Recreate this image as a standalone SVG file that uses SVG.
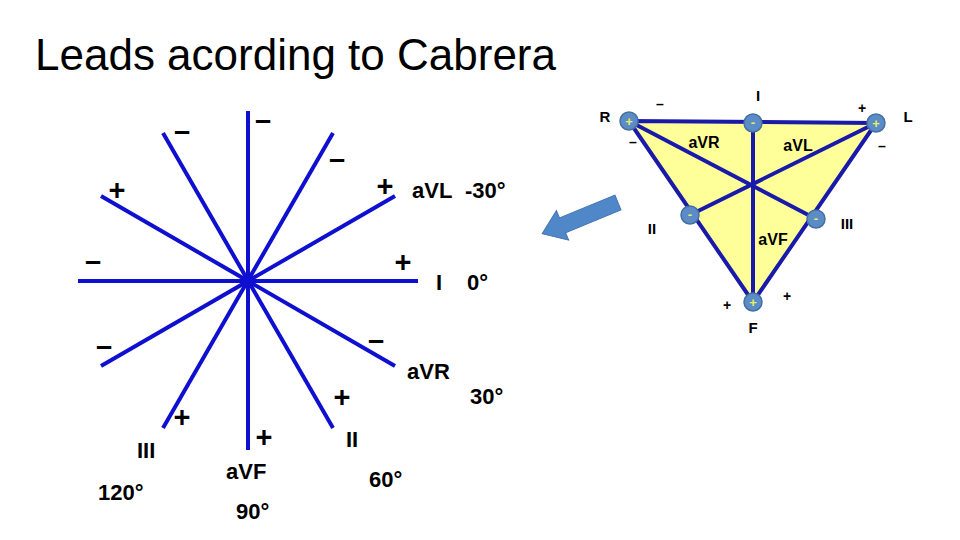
<svg xmlns="http://www.w3.org/2000/svg" width="960" height="540" viewBox="0 0 960 540">
<defs>
<style>
.ax{stroke:#0F0FD0;stroke-width:4;stroke-linecap:butt;fill:none}
.tl{stroke:#1A1AAA;stroke-width:4;fill:none;stroke-linejoin:round}
.lb{font-family:"Liberation Sans",Arial,sans-serif;font-weight:bold;fill:#000;font-size:22px}
.sg{font-family:"Liberation Sans",Arial,sans-serif;font-weight:bold;fill:#000;font-size:29px;text-anchor:middle}
.sm{font-family:"Liberation Sans",Arial,sans-serif;font-weight:bold;fill:#000;font-size:15px;text-anchor:middle}
.ss{font-family:"Liberation Sans",Arial,sans-serif;font-weight:bold;fill:#000;font-size:14px;text-anchor:middle}
.tx{font-family:"Liberation Sans",Arial,sans-serif;font-weight:bold;fill:#000;font-size:16px;text-anchor:middle}
.el{fill:#5B8CC8;stroke:#45709F;stroke-width:1.5}
.es{font-family:"Liberation Sans",Arial,sans-serif;font-weight:bold;fill:#E6F25A;font-size:13px;text-anchor:middle}
</style>
</defs>
<rect width="960" height="540" fill="#fff"/>
<text id="title" x="35" y="70" font-family="'Liberation Sans',Arial,sans-serif" font-size="44" fill="#000">Leads acording to Cabrera</text>

<g id="connectors">
<g id="star-axes">
<line class="ax" x1="78" y1="281" x2="418" y2="281"/>
<line class="ax" x1="248" y1="111" x2="248" y2="450"/>
<line class="ax" x1="101" y1="366" x2="395" y2="196"/>
<line class="ax" x1="101" y1="196" x2="395" y2="366"/>
<line class="ax" x1="163" y1="133" x2="333" y2="428"/>
<line class="ax" x1="333" y1="133" x2="163" y2="428"/>
<circle cx="248" cy="281" r="6" fill="#0F0FD0"/>
</g>
<g id="triangle-lines">
<polygon points="629,121 876,123 753,302" fill="#FFFF99" stroke="none"/>
<line class="tl" x1="753" y1="123" x2="753" y2="302"/>
<line class="tl" x1="629" y1="121" x2="816" y2="219"/>
<line class="tl" x1="876" y1="123" x2="690" y2="215"/>
<polygon class="tl" points="629,121 876,123 753,302"/>
</g>
</g>

<g id="star-signs">
<text class="sg" x="263" y="130">–</text>
<text class="sg" x="182" y="141">–</text>
<text class="sg" x="337" y="169">–</text>
<text class="sg" x="117" y="200">+</text>
<text class="sg" x="385" y="196">+</text>
<text class="sg" x="93" y="271">–</text>
<text class="sg" x="403" y="272">+</text>
<text class="sg" x="104" y="356">–</text>
<text class="sg" x="376" y="350">–</text>
<text class="sg" x="182" y="427">+</text>
<text class="sg" x="264" y="447">+</text>
<text class="sg" x="342" y="407">+</text>
</g>

<g id="lead-aVL"><text class="lb" x="412" y="198">aVL</text><text class="lb" x="465" y="198">-30°</text></g>
<g id="lead-I"><text class="lb" x="436" y="290">I</text><text class="lb" x="467" y="290">0°</text></g>
<g id="lead-aVR"><text class="lb" x="407" y="379">aVR</text><text class="lb" x="470" y="404">30°</text></g>
<g id="lead-II"><text class="lb" x="346" y="447">II</text><text class="lb" x="369" y="487">60°</text></g>
<g id="lead-aVF"><text class="lb" x="226" y="479">aVF</text><text class="lb" x="236" y="519">90°</text></g>
<g id="lead-III"><text class="lb" x="137" y="458">III</text><text class="lb" x="98" y="500">120°</text></g>

<g id="arrow">
<polygon points="0,-8 60,-8 60,-16 82,0 60,16 60,8 0,8" transform="translate(618,202.5) rotate(157.6)" fill="#4F87C9" stroke="#4275B0" stroke-width="1"/>
</g>

<g id="triangle-labels">
<text class="sm" x="605" y="122">R</text>
<text class="sm" x="908" y="122">L</text>
<text class="sm" x="758" y="101">I</text>
<text class="sm" x="753" y="333">F</text>
<text class="sm" x="652" y="234">II</text>
<text class="sm" x="847" y="229">III</text>
<text class="tx" x="704" y="148">aVR</text>
<text class="tx" x="798" y="151">aVL</text>
<text class="tx" x="773" y="245">aVF</text>
<text class="ss" x="660" y="109">–</text>
<text class="ss" x="862" y="113">+</text>
<text class="ss" x="633" y="147">–</text>
<text class="ss" x="882" y="151">–</text>
<text class="ss" x="727" y="310">+</text>
<text class="ss" x="787" y="301">+</text>
</g>

<g id="electrode-R"><circle class="el" cx="629" cy="121" r="9"/><text class="es" x="629" y="126">+</text></g>
<g id="electrode-I"><circle class="el" cx="753" cy="123" r="9"/><text class="es" x="753" y="127">-</text></g>
<g id="electrode-L"><circle class="el" cx="876" cy="123" r="9"/><text class="es" x="876" y="128">+</text></g>
<g id="electrode-II"><circle class="el" cx="690" cy="215" r="9"/><text class="es" x="690" y="219">-</text></g>
<g id="electrode-III"><circle class="el" cx="816" cy="219" r="9"/><text class="es" x="816" y="223">-</text></g>
<g id="electrode-F"><circle class="el" cx="753" cy="302" r="9"/><text class="es" x="753" y="307">+</text></g>
</svg>
